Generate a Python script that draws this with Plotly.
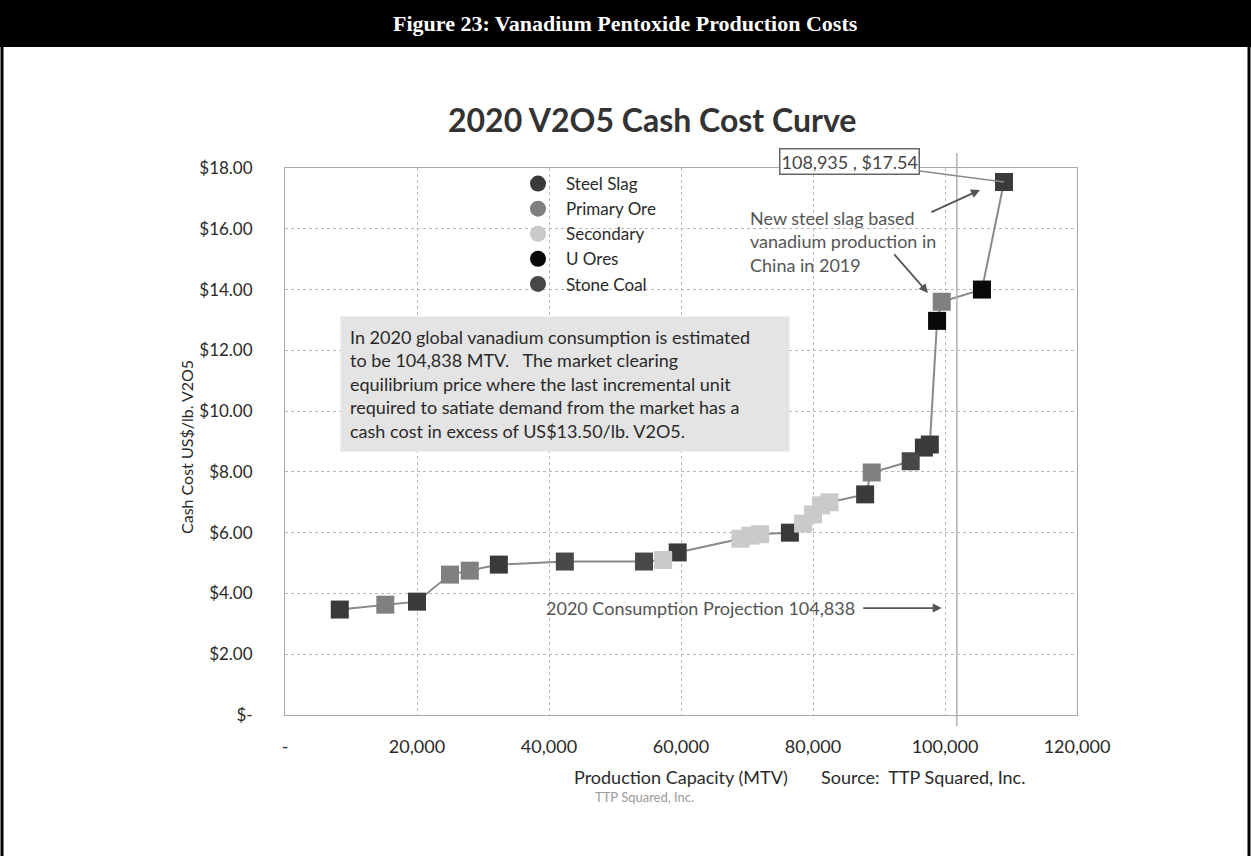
import plotly.graph_objects as go

# ---------------- data ----------------
capacity = [8300, 15200, 20000, 25000, 28000, 32400, 42400, 54400, 57300, 59500,
            69000, 70500, 72000, 76500, 78500, 80000, 81200, 82500, 87900, 88900,
            94800, 96800, 97700, 98800, 99500, 105600, 108935]
cash_cost = [3.47, 3.63, 3.73, 4.62, 4.75, 4.95, 5.05, 5.05, 5.10, 5.35,
             5.80, 5.90, 5.95, 6.00, 6.30, 6.60, 6.90, 7.00, 7.26, 7.98,
             8.35, 8.80, 8.90, 12.97, 13.60, 14.00, 17.54]
source = ["Steel Slag", "Primary Ore", "Steel Slag", "Primary Ore", "Primary Ore", "Steel Slag",
          "Stone Coal", "Stone Coal", "Secondary", "Steel Slag",
          "Secondary", "Secondary", "Secondary", "Steel Slag", "Secondary", "Secondary",
          "Secondary", "Secondary", "Steel Slag", "Primary Ore",
          "Stone Coal", "Steel Slag", "Steel Slag", "U Ores", "Primary Ore", "U Ores", "Steel Slag"]

categories = ["Steel Slag", "Primary Ore", "Secondary", "U Ores", "Stone Coal"]
cat_colors = ["#3a3a3a", "#808080", "#cacaca", "#080808", "#484848"]

x_tickvals = [0, 20000, 40000, 60000, 80000, 100000, 120000]
x_ticktext = ["-", "20,000", "40,000", "60,000", "80,000", "100,000", "120,000"]
y_tickvals = [0, 2, 4, 6, 8, 10, 12, 14, 16, 18]
y_ticktext = ["$-", "$2.00", "$4.00", "$6.00", "$8.00", "$10.00", "$12.00", "$14.00", "$16.00", "$18.00"]

last_point_label = "108,935 , $17.54"
consumption_label = "2020 Consumption Projection 104,838"
note_lines = ["In 2020 global vanadium consumption is estimated",
              "to be 104,838 MTV.   The market clearing",
              "equilibrium price where the last incremental unit",
              "required to satiate demand from the market has a",
              "cash cost in excess of US$13.50/lb. V2O5."]
china_lines = ["New steel slag based", "vanadium production in", "China in 2019"]

# ---------------- geometry (pixels of the 1251x856 page) ----------------
W, H = 1251, 856
L, R, T, B = 285, 1077, 168, 715


def px(x):
    return (x - L) / (R - L)


def py(y):
    return (B - y) / (B - T)


FONT = "Lato, 'Open Sans', sans-serif"
TXT = "#2a2a2a"

fig = go.Figure()

fig.add_trace(go.Scatter(x=capacity, y=cash_cost, mode="lines",
                         line=dict(color="#8a8a8a", width=2),
                         showlegend=False, hoverinfo="skip"))

for cat, col in zip(categories, cat_colors):
    xs = [x for x, s in zip(capacity, source) if s == cat]
    ys = [y for y, s in zip(cash_cost, source) if s == cat]
    fig.add_trace(go.Scatter(x=xs, y=ys, mode="markers", name=cat,
                             marker=dict(symbol="square", size=18, color=col),
                             showlegend=False))

for cat, col in zip(categories, cat_colors):
    fig.add_trace(go.Scatter(x=[None], y=[None], mode="markers", name=cat,
                             marker=dict(symbol="circle", size=17, color=col)))

annotations = []
# chart title
annotations.append(dict(text="<b>2020 V2O5 Cash Cost Curve</b>", xref="paper", yref="paper",
                        x=px(652), y=py(119), xanchor="center", yanchor="middle",
                        showarrow=False, font=dict(family=FONT, size=32, color="#333333")))
# header title
annotations.append(dict(text="<b>Figure 23: Vanadium Pentoxide Production Costs</b>",
                        xref="paper", yref="paper", x=px(625), y=py(23),
                        xanchor="center", yanchor="middle", showarrow=False,
                        font=dict(family="'Liberation Serif', 'Times New Roman', serif",
                                  size=22, color="white")))
# y axis title
annotations.append(dict(text="Cash Cost US$/lb. V2O5", xref="paper", yref="paper",
                        x=px(186), y=py(447), textangle=-90, showarrow=False,
                        xanchor="center", yanchor="middle",
                        font=dict(family=FONT, size=16, color=TXT)))
# x axis title + source
annotations.append(dict(text="Production Capacity (MTV)", xref="paper", yref="paper",
                        x=px(681), y=py(777), xanchor="center", yanchor="middle",
                        showarrow=False, font=dict(family=FONT, size=18, color=TXT)))
annotations.append(dict(text="Source:  TTP Squared, Inc.", xref="paper", yref="paper",
                        x=px(923), y=py(777), xanchor="center", yanchor="middle",
                        showarrow=False, font=dict(family=FONT, size=18, color=TXT)))
annotations.append(dict(text="TTP Squared, Inc.", xref="paper", yref="paper",
                        x=px(644), y=py(797), xanchor="center", yanchor="middle",
                        showarrow=False, font=dict(family=FONT, size=13, color="#9a9a9a")))
# note box
annotations.append(dict(text="<br>".join(note_lines), xref="paper", yref="paper",
                        x=px(340), y=py(316), xanchor="left", yanchor="top", align="left",
                        showarrow=False, bgcolor="#e4e4e4", borderpad=9, width=430,
                        font=dict(family=FONT, size=18, color=TXT)))
# last point callout
annotations.append(dict(text=last_point_label, x=capacity[-1], y=cash_cost[-1],
                        xref="x", yref="y", ax=-154, ay=-20, showarrow=True,
                        arrowhead=0, arrowwidth=1.5, arrowcolor="#8a8a8a", standoff=0,
                        bordercolor="#666666", borderwidth=1.5, borderpad=1, bgcolor="white",
                        font=dict(family=FONT, size=18, color="#444444")))
# China text + arrows
annotations.append(dict(text="<br>".join(china_lines), xref="paper", yref="paper",
                        x=px(748), y=py(241), xanchor="left", yanchor="middle", align="left",
                        showarrow=False, font=dict(family=FONT, size=18, color="#555555")))
annotations.append(dict(text="", x=105300, y=17.28, xref="x", yref="y", ax=-50, ay=23,
                        showarrow=True, arrowhead=2, arrowsize=1, arrowwidth=1.8,
                        arrowcolor="#555555"))
annotations.append(dict(text="", x=97420, y=13.89, xref="x", yref="y", ax=-35, ay=-40,
                        showarrow=True, arrowhead=2, arrowsize=1, arrowwidth=1.8,
                        arrowcolor="#555555"))
# consumption text + arrow
annotations.append(dict(text=consumption_label, xref="paper", yref="paper",
                        x=px(857), y=py(608), xanchor="right", yanchor="middle",
                        showarrow=False, font=dict(family=FONT, size=18, color="#555555")))
annotations.append(dict(text="", x=99500, y=3.52, xref="x", yref="y", ax=-80, ay=0,
                        showarrow=True, arrowhead=2, arrowsize=1, arrowwidth=1.8,
                        arrowcolor="#555555"))

shapes = [
    # header bar
    dict(type="rect", xref="paper", yref="paper", x0=px(0), x1=px(W), y0=py(0), y1=py(47),
         fillcolor="black", line=dict(width=0), layer="below"),
    # page frame sides
    dict(type="line", xref="paper", yref="paper", x0=px(2), x1=px(2), y0=py(0), y1=py(H),
         line=dict(color="black", width=3)),
    dict(type="line", xref="paper", yref="paper", x0=px(W - 2), x1=px(W - 2), y0=py(0), y1=py(H),
         line=dict(color="black", width=3)),
    # extra vertical reference line
    dict(type="line", xref="x", yref="paper", x0=101800, x1=101800, y0=py(726), y1=py(153),
         line=dict(color="#b0b0b0", width=1.5)),
]

fig.update_layout(
    width=W, height=H,
    margin=dict(l=L, r=W - R, t=T, b=H - B, pad=0),
    paper_bgcolor="white", plot_bgcolor="white",
    font=dict(family=FONT, size=18, color=TXT),
    showlegend=True,
    legend=dict(x=px(510), y=py(166), xanchor="left", yanchor="top",
                bgcolor="rgba(0,0,0,0)", itemwidth=46,
                font=dict(family=FONT, size=17, color=TXT)),
    annotations=annotations,
    shapes=shapes,
    xaxis=dict(range=[0, 120000], tickvals=x_tickvals, ticktext=x_ticktext,
               showgrid=True, gridcolor="#b8b8b8", griddash="dot", gridwidth=1,
               showline=True, linecolor="#a8a8a8", mirror=True, zeroline=False,
               ticks="outside", ticklen=15, tickcolor="rgba(0,0,0,0)",
               tickfont=dict(family=FONT, size=18, color=TXT)),
    yaxis=dict(range=[0, 18], tickvals=y_tickvals, ticktext=y_ticktext,
               showgrid=True, gridcolor="#b8b8b8", griddash="dot", gridwidth=1,
               showline=True, linecolor="#a8a8a8", mirror=True, zeroline=False,
               ticks="outside", ticklen=28, tickcolor="rgba(0,0,0,0)",
               tickfont=dict(family=FONT, size=17, color=TXT)),
)

fig.write_html("out.html", config={"displayModeBar": False},
               post_script="document.body.style.margin='0px';")
